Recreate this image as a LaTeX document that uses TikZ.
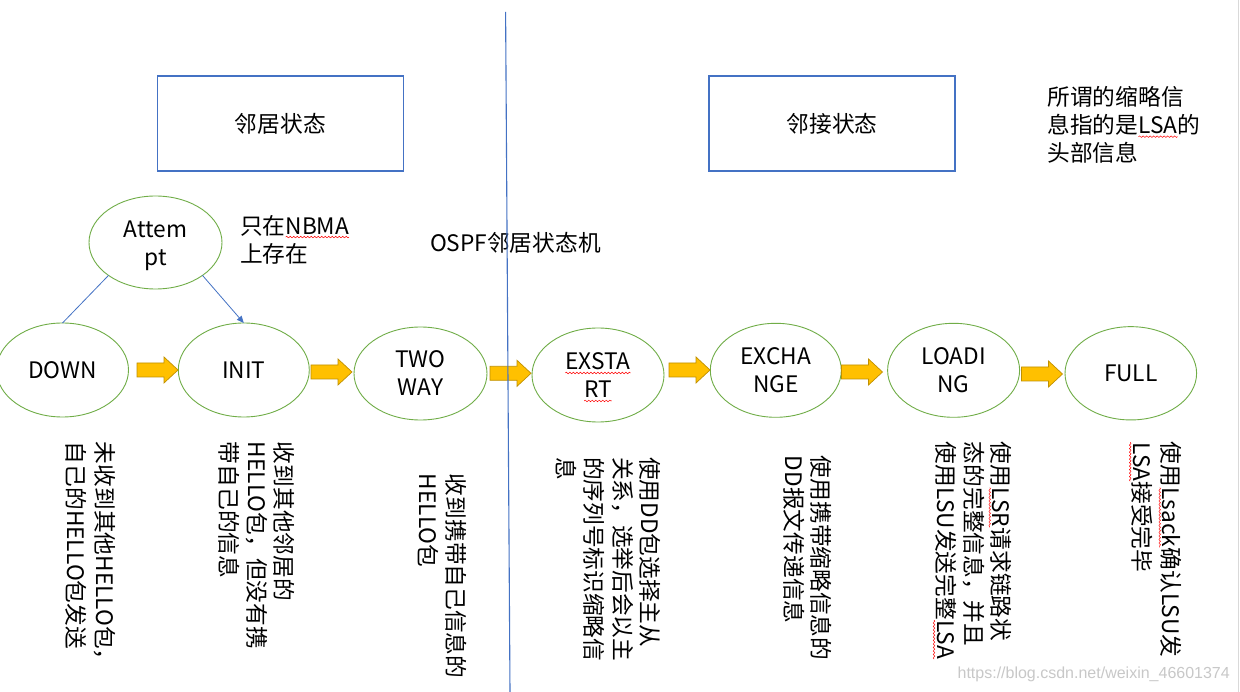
\documentclass[tikz,border=0pt]{standalone}
\usepackage{fontspec}
\setmainfont{Noto Sans CJK SC}
\newfontfamily\wmfont{Liberation Sans}
\usetikzlibrary{shapes.geometric,arrows.meta,decorations.pathmorphing}
\definecolor{egreen}{HTML}{70AD47}
\definecolor{oblue}{HTML}{4472C4}
\definecolor{ayellow}{HTML}{FFC000}
\definecolor{aedge}{HTML}{C09000}
\definecolor{wmgray}{RGB}{200,200,200}
\newcommand\sq[1]{\tikz[reset cm,x=1pt,y=1pt,baseline=(sqbox.base)]{%
  \node[shape=rectangle,draw=none,fill=none,inner sep=0pt,outer sep=0pt,minimum width=0pt,minimum height=0pt,anchor=base,align=left](sqbox){#1};%
  \draw[red,line width=0.5pt,decorate,decoration={snake,amplitude=0.8pt,segment length=3.5pt}]([yshift=-3pt]sqbox.base west)--([yshift=-3pt]sqbox.base east);}}
\tikzset{
  txt/.style={font=\fontsize{22.7}{28}\selectfont, inner sep=0pt, outer sep=0pt},
  state/.style={txt, ellipse, draw=egreen, line width=0.9pt, align=center},
  titlebox/.style={txt, rectangle, draw=oblue, line width=1.2pt, minimum width=246pt, minimum height=95pt},
  vcol/.style={txt, anchor=base west, rotate=-90},
  htext/.style={txt, align=left, anchor=north west},
  conn/.style={draw=oblue, line width=0.8pt},
  barrow/.pic={\path[fill=ayellow, draw=aedge, line width=0.7pt]
    (-20.5,-7) -- (6.5,-7) -- (6.5,-13) -- (20.5,0) -- (6.5,13) -- (6.5,7) -- (-20.5,7) -- cycle;}
}
\begin{document}
\begin{tikzpicture}[x=1pt,y=-1pt]
\path[use as bounding box, fill=white] (0,0) rectangle (1240,692);
\draw[black!15, line width=1pt] (1238.5,0) -- (1238.5,692);

% title boxes
\node[titlebox] (r1) at (280.3,123.5) {邻居状态};
\node[titlebox] (r2) at (832,123.5) {邻接状态};
\node[htext] (abbr) at (1047.5,86.5) {所谓的缩略信\\息指的是\sq{LSA}的\\头部信息};
\node[htext] (nbma) at (240,215) {只在\sq{NBMA}\\上存在};
\node[txt, anchor=west] (ospf) at (430,243) {OSPF邻居状态机};

% states
\node[state, minimum width=133pt, minimum height=93pt] (att) at (155.5,242.5) {\rule{0pt}{23pt}Attem\\pt};
\node[state, minimum width=132pt, minimum height=94pt] (down) at (62.5,370) {DOWN};
\node[state, minimum width=131pt, minimum height=94pt] (init) at (243.8,370) {INIT};
\node[state, minimum width=133pt, minimum height=93pt] (two) at (420.5,373.5) {TWO\\WAY};
\node[state, minimum width=132pt, minimum height=94pt] (exs) at (598,375) {\rule{0pt}{22pt}\sq{EXSTA}\\\sq{RT}};
\node[state, minimum width=131pt, minimum height=94pt] (exch) at (775.8,370.3) {EXCHA\\NGE};
\node[state, minimum width=132pt, minimum height=94pt] (load) at (953.6,370.3) {LOADI\\NG};
\node[state, minimum width=131.6pt, minimum height=93.3pt] (full) at (1130.8,373.3) {FULL};

% block arrows between states
\pic (a1) at (157.5,370) {barrow};
\pic (a2) at (331.5,372) {barrow};
\pic (a3) at (510.5,373.3) {barrow};
\pic (a4) at (689.5,370) {barrow};
\pic (a5) at (862,372) {barrow};
\pic (a6) at (1042,374) {barrow};

% attempt connectors
\draw[conn] (att.215) -- (down.north);
\draw[conn, -{Triangle[length=7pt,width=6pt]}] (att.325) -- (init.north);

% vertical descriptions (one node per column, read top to bottom, right to left)
\node[vcol] (t1a) at (96,442) {未收到其他HELLO包，};
\node[vcol] (t1b) at (67,442) {自己的HELLO包发送};
\node[vcol] (t2a) at (275,442) {收到其他邻居的};
\node[vcol] (t2b) at (248,442) {HELLO包，但没有携};
\node[vcol] (t2c) at (220,442) {带自己的信息};
\node[vcol] (t3a) at (447.5,474) {收到携带自己信息的};
\node[vcol] (t3b) at (419.5,474) {HELLO包};
\node[vcol] (t4a) at (641.3,457) {使用DD包选择主从};
\node[vcol] (t4b) at (614.3,457) {关系，选举后会以主};
\node[vcol] (t4c) at (585.5,457) {的序列号标识缩略信};
\node[vcol] (t4d) at (557.2,457) {息};
\node[vcol] (t5a) at (812.7,456) {使用携带缩略信息的};
\node[vcol] (t5b) at (785.2,456) {DD报文传递信息};
\node[vcol] (t6a) at (992.7,442) {使用\sq{LSR}请求链路状};
\node[vcol] (t6b) at (965,442) {态的完整信息，并且};
\node[vcol] (t6c) at (937,442) {使用LSU发送完整\sq{LSA}};
\node[vcol] (t7a) at (1162.7,442) {使用\sq{Lsack}确认LSU发};
\node[vcol] (t7b) at (1133.2,442) {\sq{LSA}接受完毕};

% watermark
\node[inner sep=0pt, anchor=east, text=wmgray, font=\wmfont\fontsize{16}{16}\selectfont] (wm) at (1230,674) {https://blog.csdn.net/weixin\_46601374};

% divider
\coordinate (vtop) at (505.6,12);
\coordinate (vbot) at (510,692);
\draw[oblue, line width=1.1pt] (vtop) -- (vbot);
\end{tikzpicture}
\end{document}
